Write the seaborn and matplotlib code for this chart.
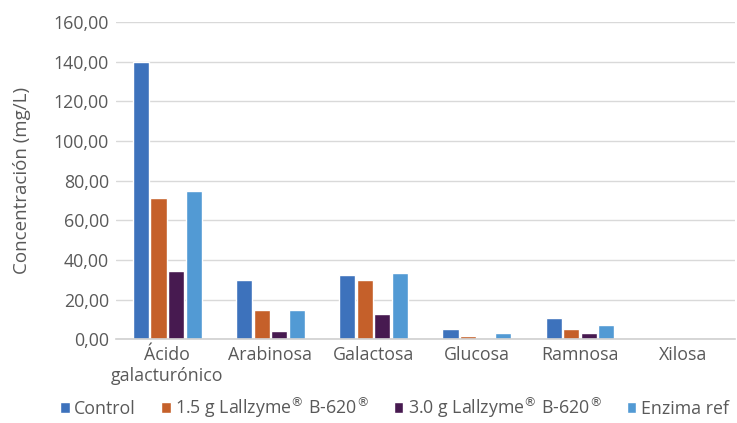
import matplotlib
matplotlib.use("Agg")
import matplotlib.pyplot as plt
import seaborn as sns
import pandas as pd
from matplotlib.ticker import FuncFormatter

categories = ["Ácido\ngalacturónico", "Arabinosa", "Galactosa", "Glucosa", "Ramnosa", "Xilosa"]
series_names = ["Control", r"1.5 g Lallzyme$^{\circledR}$ B-620$^{\circledR}$",
                r"3.0 g Lallzyme$^{\circledR}$ B-620$^{\circledR}$", "Enzima ref"]
control = [140.0, 29.8, 32.3, 5.0, 10.6, 0.0]
lall_15 = [71.2, 14.6, 29.8, 1.5, 5.0, 0.0]
lall_30 = [34.3, 4.0, 12.6, 0.0, 3.0, 0.0]
enzima = [74.7, 14.6, 33.3, 3.0, 7.0, 0.0]
colors = ["#3D72BC", "#C5602A", "#471A50", "#529AD4"]

rows = []
for name, vals in zip(series_names, [control, lall_15, lall_30, enzima]):
    for c, v in zip(categories, vals):
        rows.append({"cat": c, "serie": name, "val": v})
df = pd.DataFrame(rows)

sns.set_theme(style="white")
plt.rcParams["font.family"] = ["Open Sans", "DejaVu Sans"]

fs = 12.8
fig = plt.figure(figsize=(7.37, 4.23), dpi=100)
ax = fig.add_axes([0.157, 0.198, 0.84, 0.75])
sns.barplot(data=df, x="cat", y="val", hue="serie", palette=colors, width=0.68,
            gap=0.08, saturation=1, ax=ax, legend=True)

ax.set_ylim(0, 160)
ax.set_yticks(range(0, 161, 20))
ax.yaxis.set_major_formatter(FuncFormatter(lambda v, p: f"{v:.2f}".replace(".", ",")))
ax.grid(axis="y", color="#D9D9D9", linewidth=1)
ax.set_axisbelow(True)
for s in ["top", "right", "left"]:
    ax.spines[s].set_visible(False)
ax.spines["bottom"].set_color("#D0D0D0")
ax.spines["bottom"].set_linewidth(1.2)
ax.tick_params(axis="both", length=0, labelsize=fs, colors="#595959", pad=5)
ax.set_xlabel("")
ax.set_ylabel("Concentración (mg/L)", fontsize=13.5, color="#595959", labelpad=16)

handles, labels = ax.get_legend_handles_labels()
ax.get_legend().remove()
fig.legend(handles, labels, loc="lower center", bbox_to_anchor=(0.535, -0.03), ncol=4,
           frameon=False, fontsize=fs, labelcolor="#595959", handlelength=0.55,
           handleheight=0.55, handletextpad=0.25, columnspacing=1.4)

fig.savefig("out.png", dpi=100)
